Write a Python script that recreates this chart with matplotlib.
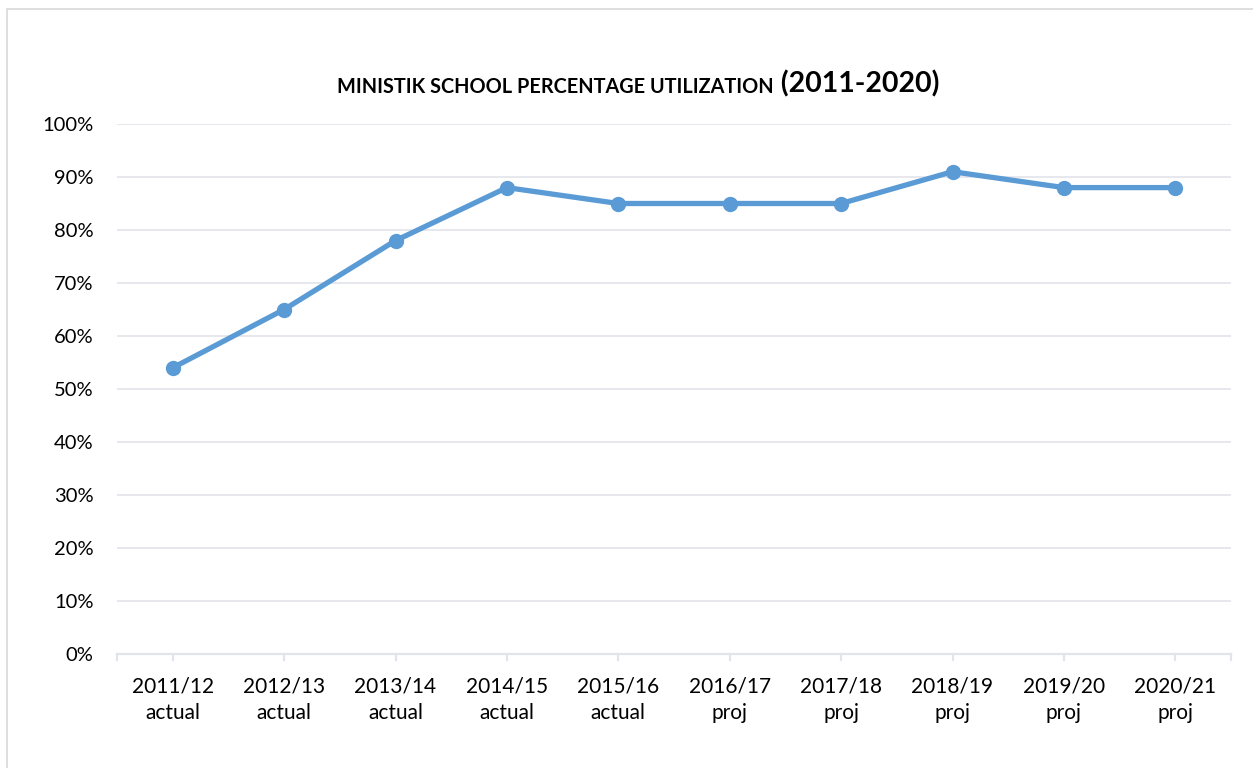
import matplotlib.pyplot as plt
from matplotlib.patches import Rectangle
import numpy as np

# Data
years = ["2011/12", "2012/13", "2013/14", "2014/15", "2015/16",
         "2016/17", "2017/18", "2018/19", "2019/20", "2020/21"]
kinds = ["actual"] * 5 + ["proj"] * 5
utilization = [54, 65, 78, 88, 85, 85, 85, 91, 88, 88]
y_ticks = list(range(0, 101, 10))

plt.rcParams["font.family"] = ["Lato", "DejaVu Sans"]

fig = plt.figure(figsize=(12.53, 7.68), dpi=100)
ax = fig.add_axes([117 / 1253, 1 - 654 / 768, (1231 - 117) / 1253, (654 - 124) / 768])

# light frame around the chart area
fig.patches.append(Rectangle((7 / 1253, -0.01), 1.0, 1 - 9 / 768 + 0.01,
                             transform=fig.transFigure, fill=False,
                             edgecolor="#D9D9D9", linewidth=1.2))

x = np.arange(len(years))
grid_color = "#E1E4EA"
for yv in y_ticks[1:]:
    ax.axhline(yv, color=grid_color, linewidth=1.2, zorder=0)

ax.plot(x, utilization, color="#5B9BD5", linewidth=3.8, marker="o",
        markersize=10, zorder=3)

ax.set_xlim(-0.5, len(years) - 0.5)
ax.set_ylim(0, 100)
ax.set_yticks(y_ticks)
ax.set_yticklabels([f"{v}%" for v in y_ticks])
ax.set_xticks(x)
ax.set_xticklabels([f"{y}\n{k}" for y, k in zip(years, kinds)], linespacing=1.4)

for s in ["top", "right", "left"]:
    ax.spines[s].set_visible(False)
ax.spines["bottom"].set_color(grid_color)
ax.spines["bottom"].set_linewidth(1.6)
ax.tick_params(axis="y", length=0, labelsize=14.5, pad=17, colors="black")
ax.tick_params(axis="x", length=0, labelsize=15, pad=16.5)

# tick marks at category centers and the end
for xv in list(x) + [-0.5, len(years) - 0.5]:
    ax.plot([xv, xv], [0, -1.2], color=grid_color, linewidth=1.6,
            clip_on=False, zorder=1)

# title in two sizes
t1 = fig.text(337 / 1253, 1 - 93 / 768, "MINISTIK SCHOOL PERCENTAGE UTILIZATION",
              fontsize=14.3, fontweight="bold", ha="left", va="baseline")
ax.annotate(" (2011-2020)", xy=(1, 0), xycoords=t1, fontsize=20.5,
            fontweight="bold", ha="left", va="bottom")

plt.savefig("out.png", dpi=100)
